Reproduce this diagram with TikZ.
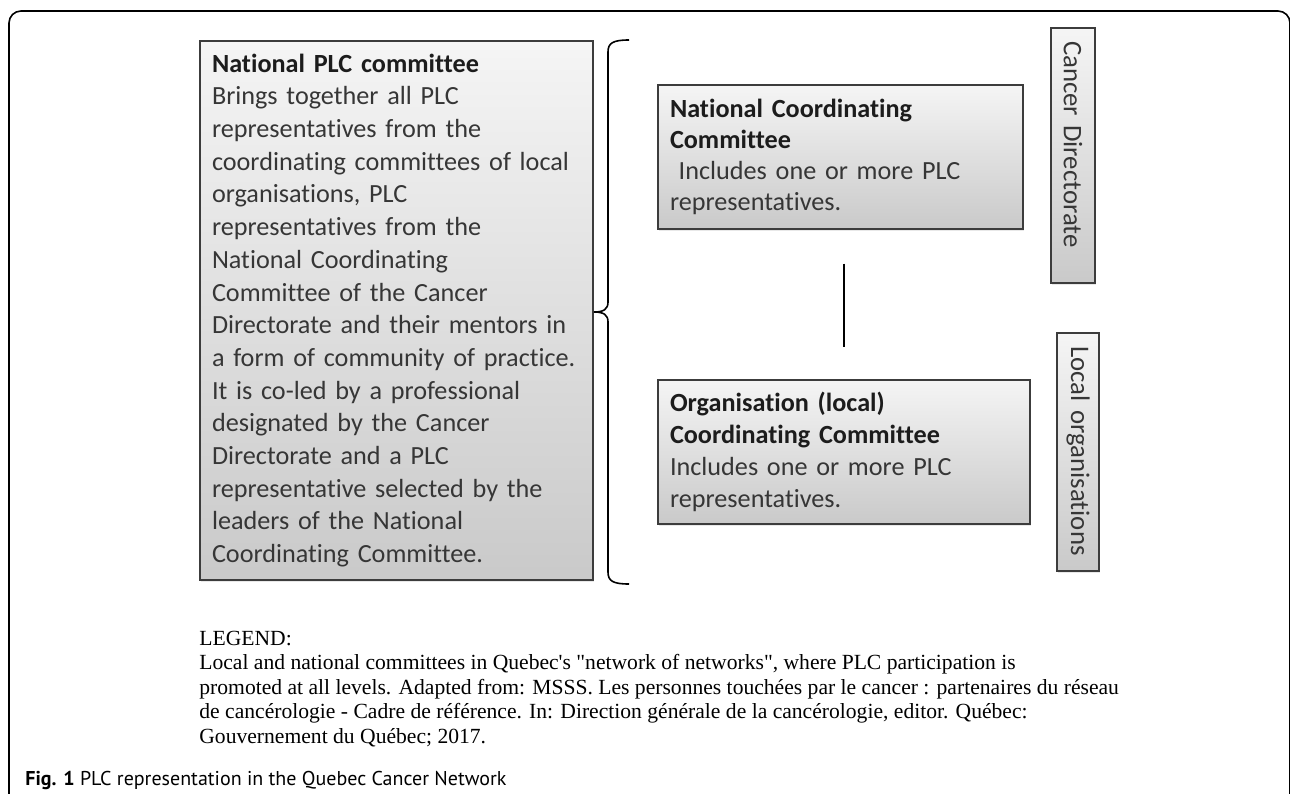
\documentclass[tikz,border=0pt]{standalone}
\usepackage{fontspec}
\setmainfont{Liberation Serif}
\newfontfamily\boxfont{Carlito}[Ligatures=NoCommon]
\newfontfamily\capfont{PT Sans}
\usetikzlibrary{shadows}
\definecolor{boxline}{HTML}{3C3C3C}
\definecolor{boxtext}{HTML}{363636}
\definecolor{boxhead}{HTML}{1C1C1C}
\hyphenpenalty=10000

\begin{document}
\begin{tikzpicture}[x=0.5pt, y=-0.5pt,
  box/.style = {draw=boxline, line width=0.6pt, top color=gray!8, bottom color=gray!42,
    drop shadow={opacity=0.18, shadow xshift=0.5pt, shadow yshift=-1pt},
    align=left, text=boxtext, inner xsep=6pt, inner ysep=0pt,
    font=\boxfont\fontsize{13.1}{16.35}\selectfont},
  sidebox/.style = {box, rotate=-90, inner xsep=6.5pt,
    font=\boxfont\fontsize{13.4}{15}\selectfont}]
  \useasboundingbox (0,0) rectangle (1290,793);

  % frame round the figure
  \draw[line width=0.8pt, rounded corners=6pt] (9,800) -- (9,11) -- (1290,11) -- (1290,800);

  % national committee on the left
  \node[box, minimum width=196.5pt, minimum height=269.5pt, text width=184.5pt] (plc) at (396.5,310.5)
    {\textcolor{boxhead}{\bfseries National PLC committee}\\
     Brings together all PLC\\
     representatives from the\\
     coordinating committees of local\\
     organisations, PLC\\
     representatives from the\\
     National Coordinating\\
     Committee of the Cancer\\
     Directorate and their mentors in\\
     a form of community of practice.\\
     It is co-led by a professional\\
     designated by the Cancer\\
     Directorate and a PLC\\
     representative selected by the\\
     leaders of the National\\
     Coordinating Committee.};

  % brace
  \draw[line width=0.8pt] (629,40) .. controls (613,40) and (608,43) .. (608,52) -- (608,302)
    .. controls (608,309) and (604,312) .. (594,312) .. controls (604,312) and (608,315) .. (608,322)
    -- (608,572) .. controls (608,581) and (613,584) .. (629,584);

  % the two coordinating committees
  \node[box, minimum width=181.5pt, minimum height=72pt, text width=170.5pt,
    font=\boxfont\fontsize{13.1}{15.5}\selectfont] (ncc) at (840.5,157)
    {\textcolor{boxhead}{\bfseries National Coordinating}\\
     \textcolor{boxhead}{\bfseries Committee}\\
     \ Includes one or more PLC\\
     representatives.};
  \node[box, minimum width=185pt, minimum height=72pt, text width=174pt,
    font=\boxfont\fontsize{13.1}{16}\selectfont] (org) at (844,452)
    {\textcolor{boxhead}{\bfseries Organisation (local)}\\
     \textcolor{boxhead}{\bfseries Coordinating Committee}\\
     Includes one or more PLC\\
     representatives.};
  \draw[line width=0.8pt, shorten <=17pt, shorten >=16pt] (org.north |- ncc.south) -- (org.north);

  % levels
  \node[sidebox, minimum width=127.5pt, minimum height=22pt, text width=114.5pt] (cd) at (1073,155.5)
    {Cancer Directorate};
  \node[sidebox, minimum width=119pt, minimum height=21pt, text width=106pt] (lo) at (1078,452)
    {Local organisations};

  % legend and caption
  \node[anchor=base west, inner sep=0pt, font=\fontsize{10.8}{12.25}\selectfont] (legend) at (199,645)
    {\parbox[t]{500pt}{LEGEND:\\
     Local and national committees in Quebec\textquotesingle s \textquotedbl network of networks\textquotedbl, where PLC participation is\\
     promoted at all levels. Adapted from: MSSS. Les personnes touchées par le cancer : partenaires du réseau\\
     de cancérologie - Cadre de référence. In: Direction générale de la cancérologie, editor. Québec:\\
     Gouvernement du Québec; 2017.}};
  \node[anchor=base west, inner sep=0pt, font=\capfont\fontsize{10}{11}\selectfont] (caption) at (25,785)
    {\textbf{Fig. 1} PLC representation in the Quebec Cancer Network};
\end{tikzpicture}
\end{document}
